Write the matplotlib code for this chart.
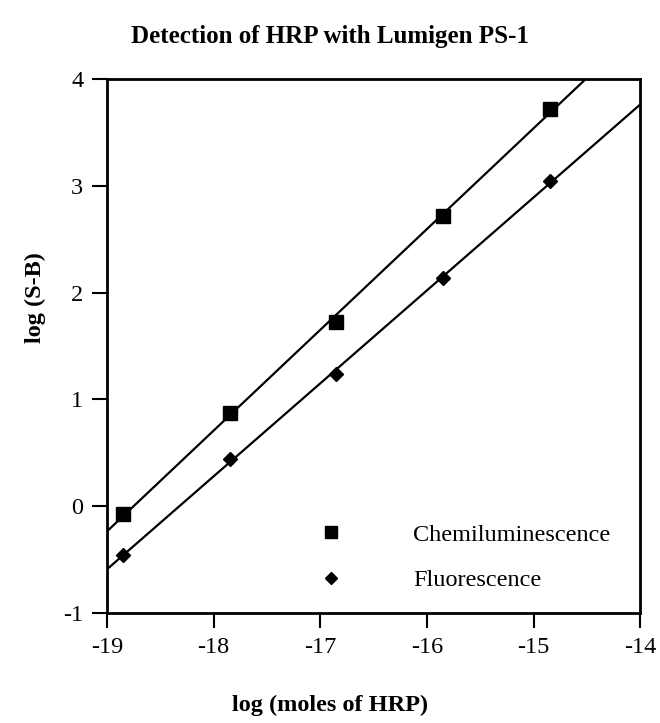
import matplotlib
matplotlib.use('Agg')
import matplotlib.pyplot as plt
import numpy as np

plt.rcParams['font.family'] = ['Liberation Serif', 'DejaVu Serif']
plt.rcParams['axes.unicode_minus'] = False

# log (moles of HRP)
x_chemi = np.array([-18.85, -17.85, -16.85, -15.85, -14.85])
y_chemi = np.array([-0.07, 0.87, 1.72, 2.72, 3.72])
x_fluor = np.array([-18.85, -17.85, -16.85, -15.85, -14.85])
y_fluor = np.array([-0.46, 0.44, 1.24, 2.14, 3.04])

xticks = [-19, -18, -17, -16, -15, -14]
yticks = [-1, 0, 1, 2, 3, 4]

fig = plt.figure(figsize=(6.6, 7.23), dpi=100)
ax = fig.add_axes([0.162, 0.152, 0.808, 0.739])

# fitted lines across the whole axis
xx = np.array([-19.0, -14.0])
for xs, ys in [(x_chemi, y_chemi), (x_fluor, y_fluor)]:
    p = np.poly1d(np.polyfit(xs, ys, 1))
    ax.plot(xx, p(xx), color='black', lw=1.6, zorder=2)

ax.plot(x_chemi, y_chemi, 's', color='black', ms=9.5, ls='none',
        label='Chemiluminescence', zorder=3)
ax.plot(x_fluor, y_fluor, 'D', color='black', ms=7, ls='none',
        mec='black', label='Fluorescence', zorder=3)

ax.set_xlim(-19, -14)
ax.set_ylim(-1, 4)
ax.set_xticks(xticks)
ax.set_yticks(yticks)
ax.set_xticklabels([str(t) for t in xticks])
ax.set_yticklabels([str(t) for t in yticks])
ax.tick_params(direction='out', length=11, width=1.5, labelsize=17.5, pad=6,
               top=False, right=False)
for s in ax.spines.values():
    s.set_linewidth(2)

ax.legend(loc='upper left', bbox_to_anchor=(0.397, 0.167), frameon=False,
          fontsize=17.5, handlelength=1, handletextpad=2.9, borderpad=0,
          borderaxespad=0, labelspacing=0.97, numpoints=1, markerscale=0.85)

fig.text(0.5, 0.949, 'Detection of HRP with Lumigen PS-1', ha='center',
         va='center', fontsize=18, fontweight='bold')
fig.text(0.5, 0.025, 'log (moles of HRP)', ha='center', va='center',
         fontsize=17.5, fontweight='bold')
fig.text(0.053, 0.588, 'log (S-B)', ha='center', va='center', rotation=90,
         fontsize=17.5, fontweight='bold')

fig.savefig('out.png', dpi=100)
